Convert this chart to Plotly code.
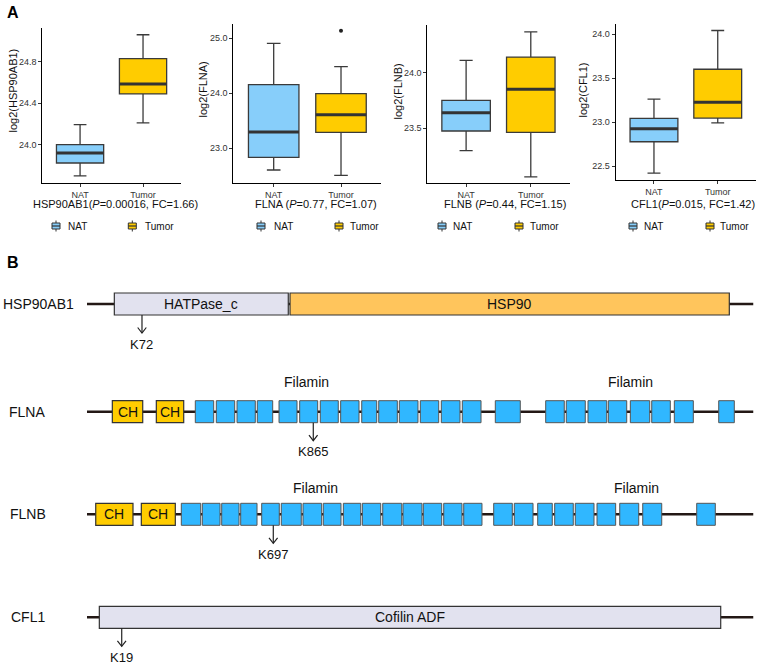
import plotly.graph_objects as go

W, H = 759, 666
FONT = "Liberation Sans, Arial, sans-serif"

# ---------------- Panel A data ----------------
genes = ["HSP90AB1", "FLNA", "FLNB", "CFL1"]
groups = ["NAT", "Tumor"]
p_values = ["0.00016", "0.77", "0.44", "0.015"]
fold_changes = ["1.66", "1.07", "1.15", "1.42"]

nat_lower = [23.70, 22.607, 23.30, 22.42]
nat_q1 = [23.824, 22.837, 23.476, 22.776]
nat_median = [23.92, 23.295, 23.641, 22.924]
nat_q3 = [24.00, 24.156, 23.752, 23.042]
nat_upper = [24.193, 24.904, 24.111, 23.261]

tumor_lower = [24.21, 22.51, 23.064, 22.99]
tumor_q1 = [24.49, 23.29, 23.464, 23.045]
tumor_median = [24.585, 23.61, 23.851, 23.224]
tumor_q3 = [24.83, 23.99, 24.141, 23.60]
tumor_upper = [25.06, 24.48, 24.368, 24.04]

tumor_outliers = [[], [25.13], [], []]

y_ticks = [[24.0, 24.4, 24.8], [23.0, 24.0, 25.0], [23.5, 24.0], [22.5, 23.0, 23.5, 24.0]]

# ---------------- Panel B data (relative position along protein, %) ----------------
proteins = ["HSP90AB1", "FLNA", "FLNB", "CFL1"]

hsp_domains = [(4.10, 30.20, "HATPase_c"), (30.46, 96.37, "HSP90")]
cfl_domains = [(1.85, 95.08, "Cofilin ADF")]

flna_ch = [(3.80, 8.36), (10.40, 14.51)]
flna_filamin = [(16.25, 19.01), (19.40, 22.16), (22.51, 25.25), (25.55, 27.86),
                (28.81, 31.51), (31.91, 34.61), (35.00, 37.70), (38.06, 40.81),
                (41.22, 43.47), (43.77, 46.56), (46.86, 49.66), (50.01, 52.77),
                (53.16, 55.96), (56.31, 59.12), (61.26, 65.01), (68.82, 71.61),
                (71.91, 74.76), (75.17, 77.98), (78.22, 80.98), (81.52, 84.43),
                (84.73, 87.52), (88.12, 90.97), (94.78, 97.12)]
flna_filamin_labels = [33.0, 81.6]

flnb_ch = [(1.31, 6.90), (8.15, 13.25)]
flnb_filamin = [(14.15, 17.06), (17.30, 19.96), (20.21, 22.81), (23.06, 25.51),
                (26.21, 28.85), (29.15, 32.15), (32.41, 35.21), (35.45, 38.11),
                (38.46, 41.07), (41.31, 44.07), (44.37, 47.22), (47.41, 50.26),
                (50.46, 53.22), (53.52, 56.26), (56.52, 59.26), (61.02, 63.81),
                (64.11, 66.92), (67.62, 69.81), (70.17, 72.96), (73.26, 76.07),
                (76.52, 79.32), (79.93, 82.78), (83.38, 86.23), (91.48, 94.27)]
flnb_filamin_labels = [34.31, 82.48]

sites = [(8.25, "K72"), (33.95, "K865"), (27.95, "K697"), (5.21, "K19")]

# ---------------- styling ----------------
NAT_COLOR = "#87CEFA"
TUMOR_COLOR = "#FFCC00"
BOX_LINE = "#3a3a3a"
BOX_W = 0.75


def px(x):
    return x / W


def py(y):
    return 1 - y / H


# pixel layout of panel A subplots: (x0, x1, ytop, ybottom)
frames = [(42.3, 180.8, 28.3, 182.7), (233.3, 381.4, 24.0, 182.7),
          (427.3, 569.6, 25.0, 182.7), (615.7, 756.0, 24.0, 180.0)]
y_ranges = [[23.634, 25.122], [22.377, 25.254], [23.011, 24.429], [22.341, 24.114]]
ytitle_pos = [(12.5, 91), (202.5, 90), (397, 91.5), (582.5, 90)]
xtitle_center = [116, 316, 504.7, 692.5]
legend_pos = [(56, 65.7, 132.3, 142.7), (261, 271.7, 339, 348.3),
              (442, 451, 519, 528.3), (633, 642.3, 710, 718.3)]

fig = go.Figure()
shapes = []
annotations = []
layout_axes = {}

for i, g in enumerate(genes):
    xa = "x" if i == 0 else f"x{i+1}"
    ya = "y" if i == 0 else f"y{i+1}"
    stats = [
        (0, nat_lower[i], nat_q1[i], nat_median[i], nat_q3[i], nat_upper[i], NAT_COLOR, "NAT"),
        (1, tumor_lower[i], tumor_q1[i], tumor_median[i], tumor_q3[i], tumor_upper[i], TUMOR_COLOR, "Tumor"),
    ]
    for xpos, lo, q1, med, q3, hi, col, name in stats:
        fig.add_trace(go.Box(
            x=[xpos], lowerfence=[lo], q1=[q1], median=[med], q3=[q3], upperfence=[hi],
            width=BOX_W, whiskerwidth=0.27, fillcolor=col,
            line=dict(color=BOX_LINE, width=1.3), boxpoints=False,
            xaxis=xa, yaxis=ya, showlegend=False, hoverinfo="skip", name=name))
        fig.add_trace(go.Scatter(
            x=[xpos - BOX_W / 2, xpos + BOX_W / 2], y=[med, med], mode="lines",
            line=dict(color="#333333", width=3), xaxis=xa, yaxis=ya,
            showlegend=False, hoverinfo="skip"))
    if tumor_outliers[i]:
        fig.add_trace(go.Scatter(
            x=[1] * len(tumor_outliers[i]), y=tumor_outliers[i], mode="markers",
            marker=dict(color="#222222", size=4), xaxis=xa, yaxis=ya,
            showlegend=False, hoverinfo="skip"))

    x0, x1, yt, yb = frames[i]
    key = "" if i == 0 else str(i + 1)
    layout_axes["xaxis" + key] = dict(
        domain=[px(x0), px(x1)], range=[-0.6, 1.6], tickvals=[0, 1], ticktext=groups,
        showline=True, linecolor="#000000", linewidth=1, ticks="outside", ticklen=3,
        tickcolor="#333333", showgrid=False, zeroline=False, fixedrange=True,
        tickfont=dict(family=FONT, size=9, color="#333333"), anchor=ya)
    layout_axes["yaxis" + key] = dict(
        domain=[py(yb), py(yt)], range=y_ranges[i], tickvals=y_ticks[i], tickformat=".1f",
        showline=True, linecolor="#000000", linewidth=1, ticks="outside", ticklen=3,
        tickcolor="#333333", showgrid=False, zeroline=False, fixedrange=True,
        tickfont=dict(family=FONT, size=9, color="#333333"), anchor=xa)

    # y title
    tx, ty = ytitle_pos[i]
    annotations.append(dict(x=px(tx), y=py(ty), xref="paper", yref="paper",
                            text=f"log2({g})", textangle=-90, showarrow=False,
                            font=dict(family=FONT, size=11, color="#111111"),
                            xanchor="center", yanchor="middle"))
    # x title
    sep = "(" if g in ("HSP90AB1", "CFL1") else " ("
    annotations.append(dict(x=px(xtitle_center[i]), y=py(204.5), xref="paper", yref="paper",
                            text=f"{g}{sep}<i>P</i>={p_values[i]}, FC={fold_changes[i]})",
                            showarrow=False, font=dict(family=FONT, size=11, color="#111111"),
                            xanchor="center", yanchor="middle"))
    # legend (manual)
    nic, ntx, tic, ttx = legend_pos[i]
    for cx, tx_, col, lab in ((nic, ntx, NAT_COLOR, "NAT"), (tic, ttx, TUMOR_COLOR, "Tumor")):
        shapes.append(dict(type="line", xref="paper", yref="paper",
                           x0=px(cx), x1=px(cx), y0=py(220.5), y1=py(231.5),
                           line=dict(color="#333333", width=1)))
        shapes.append(dict(type="rect", xref="paper", yref="paper",
                           x0=px(cx - 4), x1=px(cx + 4), y0=py(223), y1=py(229),
                           fillcolor=col, line=dict(color="#333333", width=1)))
        shapes.append(dict(type="line", xref="paper", yref="paper",
                           x0=px(cx - 4), x1=px(cx + 4), y0=py(226), y1=py(226),
                           line=dict(color="#333333", width=1.2)))
        annotations.append(dict(x=px(tx_), y=py(226), xref="paper", yref="paper",
                                text=lab, showarrow=False, xanchor="left", yanchor="middle",
                                font=dict(family=FONT, size=10, color="#111111")))

# panel letters
annotations.append(dict(x=px(5), y=py(12), xref="paper", yref="paper", text="<b>A</b>",
                        showarrow=False, xanchor="left", yanchor="middle",
                        font=dict(family=FONT, size=16, color="#000000")))
annotations.append(dict(x=px(5), y=py(262), xref="paper", yref="paper", text="<b>B</b>",
                        showarrow=False, xanchor="left", yanchor="middle",
                        font=dict(family=FONT, size=16, color="#000000")))

# ---------------- Panel B ----------------
layout_axes["xaxis5"] = dict(domain=[px(87), px(753.5)], range=[0, 100], visible=False,
                             fixedrange=True, anchor="y5")
layout_axes["yaxis5"] = dict(domain=[0, py(280)], range=[666, 280], visible=False,
                             fixedrange=True, anchor="x5")

row_y = [304, 411.7, 514.3, 617.3]
label_x = [1, 7.3, 8, 8.7]
HALF = 11
BACKBONE = "#231815"

for r, name in enumerate(proteins):
    fig.add_trace(go.Scatter(x=[0, 100], y=[row_y[r], row_y[r]], mode="lines",
                             line=dict(color=BACKBONE, width=2.6), xaxis="x5", yaxis="y5",
                             showlegend=False, hoverinfo="skip"))
    annotations.append(dict(x=px(label_x[r]), y=py(row_y[r]), xref="paper", yref="paper",
                            text=name, showarrow=False, xanchor="left", yanchor="middle",
                            font=dict(family=FONT, size=14, color="#111111")))


def add_box(r, a, b, fill, edge, label=None, lw=1.2):
    shapes.append(dict(type="rect", xref="x5", yref="y5", x0=a, x1=b,
                       y0=row_y[r] - HALF, y1=row_y[r] + HALF,
                       fillcolor=fill, line=dict(color=edge, width=lw), layer="above"))
    if label:
        annotations.append(dict(x=(a + b) / 2, y=row_y[r], xref="x5", yref="y5", text=label,
                                showarrow=False, xanchor="center", yanchor="middle",
                                font=dict(family=FONT, size=14, color="#111111")))


add_box(0, hsp_domains[0][0], hsp_domains[0][1], "#E2E2EF", "#333333", hsp_domains[0][2])
add_box(0, hsp_domains[1][0], hsp_domains[1][1], "#FFC55C", "#333333", hsp_domains[1][2])
add_box(3, cfl_domains[0][0], cfl_domains[0][1], "#E2E2EF", "#333333", cfl_domains[0][2])

FIL_BLUE = "#30B7FF"
CH_YELLOW = "#FFCC00"
for a, b in flna_ch:
    add_box(1, a, b, CH_YELLOW, "#333333", "CH")
for a, b in flna_filamin:
    add_box(1, a, b, FIL_BLUE, "#555555", lw=1)
for a, b in flnb_ch:
    add_box(2, a, b, CH_YELLOW, "#333333", "CH")
for a, b in flnb_filamin:
    add_box(2, a, b, FIL_BLUE, "#555555", lw=1)

for xl in flna_filamin_labels:
    annotations.append(dict(x=xl, y=row_y[1] - 30, xref="x5", yref="y5", text="Filamin",
                            showarrow=False, font=dict(family=FONT, size=14, color="#111111")))
for xl in flnb_filamin_labels:
    annotations.append(dict(x=xl, y=row_y[2] - 26, xref="x5", yref="y5", text="Filamin",
                            showarrow=False, font=dict(family=FONT, size=14, color="#111111")))

# modification site arrows
HW = 4.3 / 6.665  # arrowhead half width in % units
for r, (sx, lab) in enumerate(sites):
    top = row_y[r] + HALF
    tip = row_y[r] + 29
    shapes.append(dict(type="line", xref="x5", yref="y5", x0=sx, x1=sx, y0=top, y1=tip,
                       line=dict(color="#222222", width=1.2), layer="above"))
    shapes.append(dict(type="path", xref="x5", yref="y5",
                       path=f"M {sx - HW},{tip - 5.5} L {sx},{tip} L {sx + HW},{tip - 5.5}",
                       line=dict(color="#222222", width=1.2), layer="above"))
    annotations.append(dict(x=sx, y=row_y[r] + 40, xref="x5", yref="y5", text=lab,
                            showarrow=False, xanchor="center", yanchor="middle",
                            font=dict(family=FONT, size=13, color="#111111")))

fig.update_layout(
    width=W, height=H, autosize=False,
    margin=dict(l=0, r=0, t=0, b=0),
    paper_bgcolor="white", plot_bgcolor="white",
    showlegend=False, boxmode="overlay",
    shapes=shapes, annotations=annotations,
    font=dict(family=FONT),
    **layout_axes,
)

fig.write_html(
    "out.html",
    config={"displayModeBar": False},
    post_script="document.body.style.margin='0';document.body.style.padding='0';"
                "document.body.style.overflow='hidden';"
                "document.documentElement.style.overflow='hidden';",
)
